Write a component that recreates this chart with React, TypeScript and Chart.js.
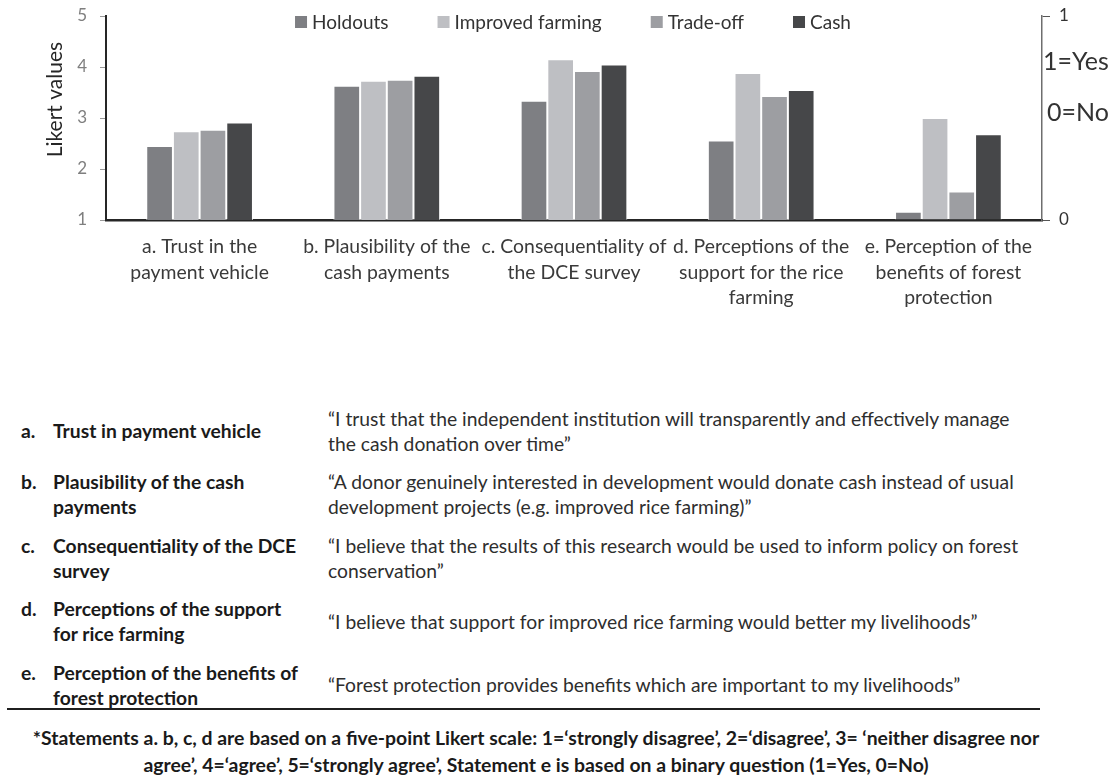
import React, { useEffect, useRef } from "react";
import { Chart, registerables } from "chart.js";

Chart.register(...registerables);

const FONT = 'Lato, "Open Sans", sans-serif';

// ---------- data ----------
const categories: string[][] = [
  ["a. Trust in the", "payment vehicle"],
  ["b. Plausibility of the", "cash payments"],
  ["c. Consequentiality of", "the DCE survey"],
  ["d. Perceptions of the", "support for the rice", "farming"],
  ["e. Perception of the", "benefits of forest", "protection"],
];

const seriesNames = ["Holdouts", "Improved farming", "Trade-off", "Cash"];
const seriesColors = ["#7e7f83", "#bebfc3", "#9d9ea2", "#464749"];

// Likert (1–5) values for statements a–d
const holdoutsLikert = [2.45, 3.63, 3.34, 2.56, null];
const improvedLikert = [2.74, 3.73, 4.15, 3.88, null];
const tradeoffLikert = [2.77, 3.75, 3.92, 3.43, null];
const cashLikert = [2.91, 3.83, 4.05, 3.55, null];

// Binary (0–1) values for statement e
const holdoutsBinary = [null, null, null, null, 0.04];
const improvedBinary = [null, null, null, null, 0.5];
const tradeoffBinary = [null, null, null, null, 0.14];
const cashBinary = [null, null, null, null, 0.42];

const likertTicks = [1, 2, 3, 4, 5];
const binaryTicks = [0, 1];
const yAxisTitle = "Likert values";
const binaryNotes = ["1=Yes", "0=No"];

const tableLetters = ["a.", "b.", "c.", "d.", "e."];
const tableLabels: string[][] = [
  ["Trust in payment vehicle"],
  ["Plausibility of the cash", "payments"],
  ["Consequentiality of the DCE", "survey"],
  ["Perceptions of the support", "for rice farming"],
  ["Perception of the benefits of", "forest protection"],
];
const tableQuotes: string[][] = [
  [
    "\u201CI trust that the independent institution will transparently and effectively manage",
    "the cash donation over time\u201D",
  ],
  [
    "\u201CA donor genuinely interested in development would donate cash instead of usual",
    "development projects (e.g. improved rice farming)\u201D",
  ],
  [
    "\u201CI believe that the results of this research would be used to inform policy on forest",
    "conservation\u201D",
  ],
  ["\u201CI believe that support for improved rice farming would better my livelihoods\u201D"],
  ["\u201CForest protection provides benefits which are important to my livelihoods\u201D"],
];
const footnoteLines = [
  "*Statements a. b, c, d are based on a five-point Likert scale: 1=\u2018strongly disagree\u2019, 2=\u2018disagree\u2019, 3= \u2018neither disagree nor",
  "agree\u2019, 4=\u2018agree\u2019, 5=\u2018strongly agree\u2019, Statement e is based on a binary question (1=Yes, 0=No)",
];

const likertSeries = [holdoutsLikert, improvedLikert, tradeoffLikert, cashLikert];
const binarySeries = [holdoutsBinary, improvedBinary, tradeoffBinary, cashBinary];

const overlayPlugin = {
  id: "overlay",
  afterDraw(chart: any) {
    const { ctx, chartArea } = chart;
    // y axis title
    ctx.save();
    ctx.translate(55, chartArea.top + (chartArea.bottom - chartArea.top) * 0.41);
    ctx.rotate(-Math.PI / 2);
    ctx.font = `21px ${FONT}`;
    ctx.fillStyle = "#262626";
    ctx.textAlign = "center";
    ctx.textBaseline = "middle";
    ctx.fillText(yAxisTitle, 0, 0);
    ctx.restore();

    // legend inside plot area
    ctx.save();
    ctx.font = `19px ${FONT}`;
    ctx.textBaseline = "middle";
    ctx.textAlign = "left";
    const box = 12;
    const gapText = 5;
    const gapItem = 49;
    const widths = seriesNames.map((n) => box + gapText + ctx.measureText(n).width);
    const total = widths.reduce((a, b) => a + b, 0) + gapItem * (widths.length - 1);
    let x = (chartArea.left + chartArea.right) / 2 - total / 2 - 1;
    const yc = chartArea.top + 6;
    seriesNames.forEach((n, i) => {
      ctx.fillStyle = seriesColors[i];
      ctx.fillRect(x, yc - box / 2, box, box);
      ctx.fillStyle = "#333333";
      ctx.fillText(n, x + box + gapText, yc + 1);
      x += widths[i] + gapItem;
    });
    ctx.restore();

    // binary notes
    ctx.save();
    ctx.font = `25px ${FONT}`;
    ctx.fillStyle = "#333333";
    ctx.textAlign = "left";
    ctx.textBaseline = "middle";
    ctx.fillText(binaryNotes[0], chartArea.right + 1, chartArea.top + 46);
    ctx.fillText(binaryNotes[1], chartArea.right + 5, chartArea.top + 97);
    ctx.restore();
  },
};

function BarChart() {
  const ref = useRef<HTMLCanvasElement | null>(null);
  useEffect(() => {
    if (!ref.current) return;
    const common = {
      barPercentage: 1,
      categoryPercentage: 0.57,
      skipNull: true,
      borderWidth: 1,
      borderColor: "rgba(255,255,255,0.75)",
      borderSkipped: "bottom",
    };
    const datasets: any[] = [];
    seriesNames.forEach((name, i) => {
      datasets.push({
        ...common,
        label: name,
        data: likertSeries[i],
        backgroundColor: seriesColors[i],
        yAxisID: "y",
      });
    });
    seriesNames.forEach((name, i) => {
      datasets.push({
        ...common,
        label: name + " (binary)",
        data: binarySeries[i],
        backgroundColor: seriesColors[i],
        yAxisID: "y1",
      });
    });
    const chart = new Chart(ref.current, {
      type: "bar",
      data: { labels: categories as any, datasets },
      plugins: [overlayPlugin],
      options: {
        animation: false,
        responsive: true,
        maintainAspectRatio: false,
        layout: { padding: { top: 16, left: 0, right: 0, bottom: 0 } },
        plugins: {
          legend: { display: false },
          tooltip: { enabled: false },
          title: { display: false },
        },
        scales: {
          x: {
            grid: { display: false, drawTicks: false },
            border: { display: true, color: "#262626", width: 2.5 },
            ticks: {
              color: "#3a3a3a",
              font: { family: FONT, size: 19.4, lineHeight: 25.5 / 19.4 },
              padding: 14,
              maxRotation: 0,
              autoSkip: false,
            },
            afterFit: (s: any) => {
              s.height = 100;
              s.paddingLeft = 0;
              s.paddingRight = 0;
            },
          },
          y: {
            position: "left",
            min: likertTicks[0],
            max: likertTicks[likertTicks.length - 1],
            afterBuildTicks: (s: any) => {
              s.ticks = likertTicks.map((v) => ({ value: v }));
            },
            grid: { drawOnChartArea: false, drawTicks: true, tickLength: 6, color: "#9a9a9a", lineWidth: 1 },
            border: { display: true, color: "#262626", width: 2 },
            ticks: { color: "#7f7f7f", font: { family: FONT, size: 17 }, padding: 13 },
            afterFit: (s: any) => {
              s.width = 106;
              s.paddingTop = 0;
              s.paddingBottom = 0;
            },
          },
          y1: {
            position: "right",
            min: binaryTicks[0],
            max: binaryTicks[binaryTicks.length - 1],
            afterBuildTicks: (s: any) => {
              s.ticks = binaryTicks.map((v) => ({ value: v }));
            },
            grid: { drawOnChartArea: false, drawTicks: true, tickLength: 8, color: "#555555", lineWidth: 1 },
            border: { display: true, color: "#6e6e6e", width: 1.5 },
            ticks: { color: "#333333", font: { family: FONT, size: 17 }, padding: 9 },
            afterFit: (s: any) => {
              s.width = 76;
              s.paddingTop = 0;
              s.paddingBottom = 0;
            },
          },
        },
      },
    });
    return () => chart.destroy();
  }, []);
  return (
    <div style={{ position: "absolute", left: 0, top: 0, width: 1118, height: 320 }}>
      <canvas ref={ref} />
    </div>
  );
}

export default function App() {
  useEffect(() => {
    document.body.style.margin = "0";
  }, []);
  const rowTop0 = 399;
  const rowH = 63.5;
  const tableFont = 19.3;
  return (
    <div
      style={{
        position: "relative",
        width: 1118,
        height: 777,
        overflow: "hidden",
        background: "#ffffff",
        fontFamily: FONT,
      }}
    >
      <BarChart />
      {tableLetters.map((letter, i) => (
        <div
          key={letter}
          style={{
            position: "absolute",
            left: 0,
            top: rowTop0 + i * rowH,
            height: rowH,
            width: 1118,
            display: "flex",
            alignItems: "center",
            fontSize: tableFont,
            lineHeight: "25px",
          }}
        >
          <div style={{ width: 21, flex: "none" }} />
          <div style={{ width: 32, flex: "none", fontWeight: 700, color: "#1a1a1a" }}>
            <div>{letter}</div>
            {tableLabels[i].length > 1 ? <div>&nbsp;</div> : null}
          </div>
          <div style={{ width: 275, flex: "none", fontWeight: 700, color: "#1a1a1a", whiteSpace: "nowrap" }}>
            {tableLabels[i].map((l) => (
              <div key={l}>{l}</div>
            ))}
          </div>
          <div style={{ flex: "none", color: "#2e2e2e" }}>
            {tableQuotes[i].map((l) => (
              <div key={l} style={{ whiteSpace: "nowrap" }}>
                {l}
              </div>
            ))}
          </div>
        </div>
      ))}
      <div
        style={{
          position: "absolute",
          left: 7,
          top: 708,
          width: 1033,
          height: 0,
          borderTop: "2.5px solid #1f1f1f",
        }}
      />
      <div
        style={{
          position: "absolute",
          left: 0,
          top: 724,
          width: 1072,
          textAlign: "center",
          fontWeight: 700,
          fontSize: 19.4,
          lineHeight: "27px",
          color: "#1a1a1a",
        }}
      >
        {footnoteLines.map((l) => (
          <div key={l} style={{ whiteSpace: "nowrap" }}>
            {l}
          </div>
        ))}
      </div>
    </div>
  );
}
